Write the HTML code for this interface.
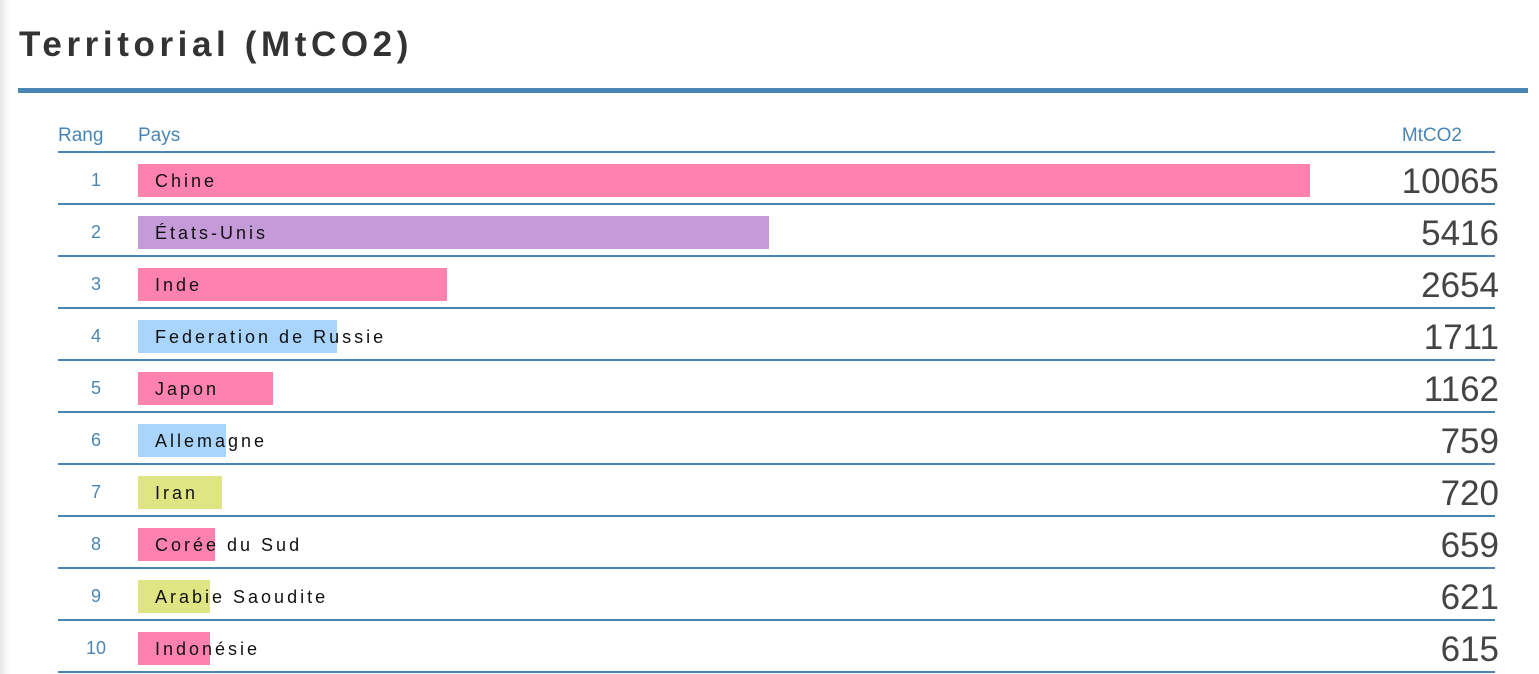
<!DOCTYPE html>
<html><head><meta charset="utf-8"><style>
body{margin:0;width:1539px;height:674px;background:#fff;overflow:hidden;font-family:"Liberation Sans",sans-serif;position:relative}
#shadow{position:absolute;left:0;top:0;width:10px;height:674px;background:linear-gradient(to right,#e6e6e6,#fff)}
#title{position:absolute;left:19px;top:25px;font-size:35px;font-weight:bold;letter-spacing:4.6px;color:#333}
#rule{position:absolute;left:18px;top:88px;width:1510px;height:5px;background:#4a86b4}
.h{position:absolute;top:125px;font-size:19px;color:#4a86b4}
.line{position:absolute;left:58px;width:1437px;height:2px;background:#4a86b4}
.rank{position:absolute;width:60px;left:66px;text-align:center;font-size:18px;color:#4a86b4}
.bar{position:absolute;left:138px;height:33px}
.name{position:absolute;left:155px;font-size:18px;letter-spacing:3px;color:#111}
.val{position:absolute;right:40px;font-size:35px;color:#444;font-weight:300}
</style></head><body>
<div id="shadow"></div>
<div id="title">Territorial (MtCO2)</div>
<div id="rule"></div>
<div class="h" style="left:58px">Rang</div>
<div class="h" style="left:138px">Pays</div>
<div class="h" style="right:77px">MtCO2</div>
<div class="line" style="top:151px"></div>
<div id="rows"></div>
<script>
const countries=["Chine","États-Unis","Inde","Federation de Russie","Japon","Allemagne","Iran","Corée du Sud","Arabie Saoudite","Indonésie"];
const values=[10065,5416,2654,1711,1162,759,720,659,621,615];
const groups=["asia","america","asia","europe","asia","europe","mideast","asia","mideast","asia"];
const colors={asia:"#ff82ae",america:"#c49ad9",europe:"#a9d4fb",mideast:"#e0e584"};
const x=v=>v*1172/10065;
const root=document.getElementById('rows');
countries.forEach((c,i)=>{
  const top=164+i*52;
  const bar=document.createElement('div');bar.className='bar';
  
  
  bar.style.top=top+'px';bar.style.width=x(values[i])+'px';bar.style.background=colors[groups[i]];
  root.appendChild(bar);
  const r=document.createElement('div');r.className='rank';r.textContent=i+1;
  
  
  r.style.top=(top+6)+'px';root.appendChild(r);
  const n=document.createElement('div');n.className='name';n.textContent=c;
  
  
  n.style.top=(top+7)+'px';root.appendChild(n);
  const v=document.createElement('div');v.className='val';v.textContent=values[i];
  
  
  v.style.top=(top-2)+'px';root.appendChild(v);
  const l=document.createElement('div');l.className='line';
  
  
  l.style.top=(top+39)+'px';root.appendChild(l);
});
</script>
</body></html>
